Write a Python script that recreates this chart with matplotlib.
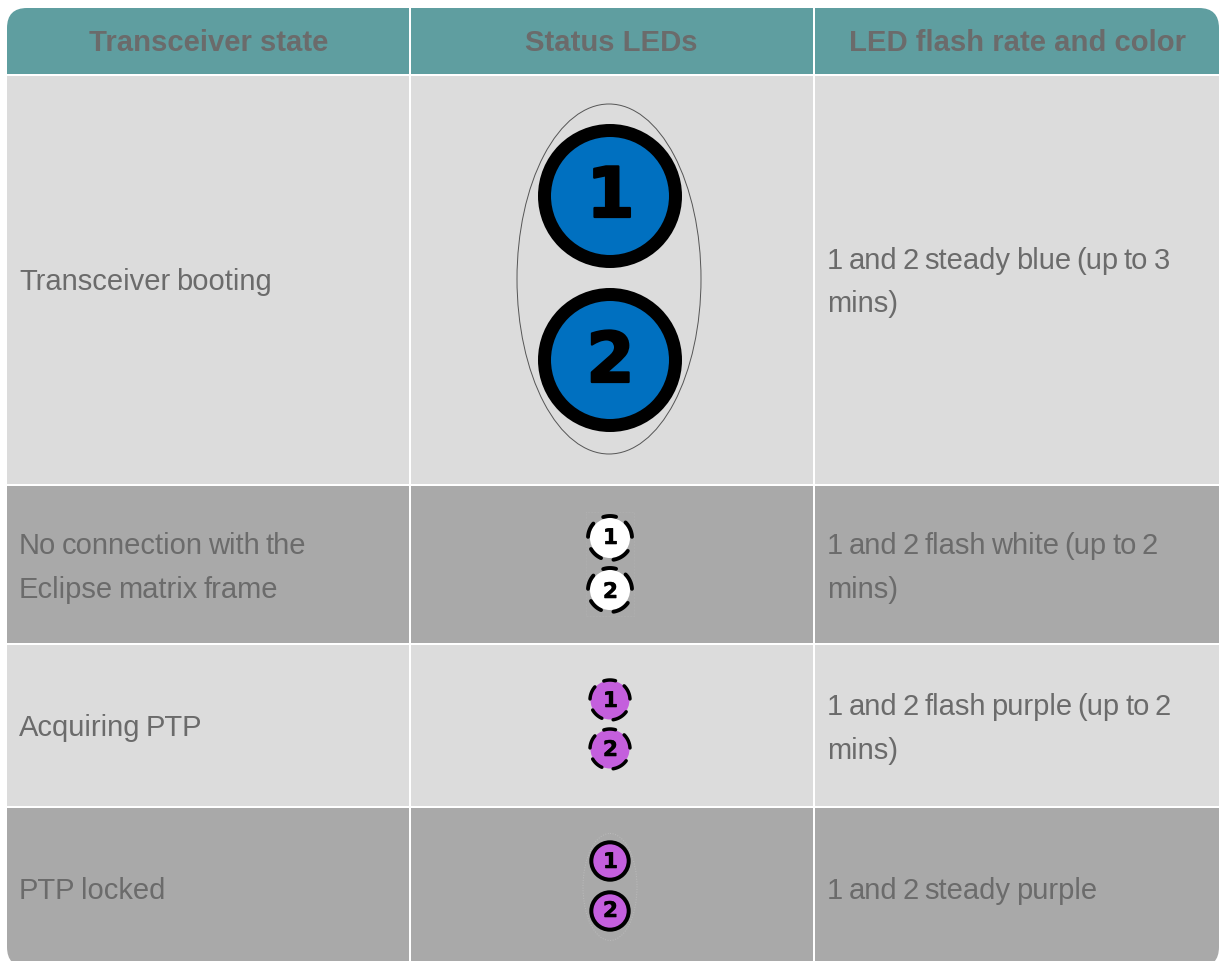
import numpy as np
import matplotlib
matplotlib.use('Agg')
import matplotlib.pyplot as plt
import matplotlib.patheffects as pe
from matplotlib.patches import Rectangle, Circle, Ellipse, FancyBboxPatch

headers = ['Transceiver state', 'Status LEDs', 'LED flash rate and color']
states = [['Transceiver booting'],
          ['No connection with the', 'Eclipse matrix frame'],
          ['Acquiring PTP'],
          ['PTP locked']]
rates = [['1 and 2 steady blue (up to 3', 'mins)'],
         ['1 and 2 flash white (up to 2', 'mins)'],
         ['1 and 2 flash purple (up to 2', 'mins)'],
         ['1 and 2 steady purple']]
led_labels = ['1', '2']
led_colors = ['#0070C0', '#FFFFFF', '#C45FDD', '#C45FDD']

# layout in pixels
W, H = 1220, 961
col_edges = [7, 409.5, 813.5, 1219]
row_edges = [8, 74.5, 485, 644, 807, 967]
state_base = [[290], [554, 598], [736], [899]]
rate_base = [[269, 312], [554, 598], [715, 759], [899]]
led_y = [[196, 360], [538, 590], [700, 749], [861, 911]]
led_r = [65.5, 20, 19.5, 18.7]
led_lw = [13, 0, 0, 4]
dash_r = [0, 22, 20, 0]
dash_lw = [0, 2.8, 2.5, 0]
digit_pt = [50, 15.5, 15.5, 15.5]
digit_stroke = [1.6, 0.4, 0.4, 0.4]
digit_base = [[217, 382], [544, 598], [707, 756], [868, 917]]
# dash arcs round the flashing LEDs, degrees
dash_arcs = [(74, 108), (3, 45), (-36, -81), (-114, -150), (139, 177)]
TEXT = '#6B6B6B'
SPACE = 5.4

fig = plt.figure(figsize=(W / 100, H / 100), dpi=100)
ax = fig.add_axes([0, 0, 1, 1])
ax.set_xlim(0, W)
ax.set_ylim(H, 0)
ax.axis('off')
renderer = fig.canvas.get_renderer()


def draw_line(x, y, line):
    # reference has tight word spacing, so place word by word
    for word in line.split(' '):
        t = ax.text(x, y, word, ha='left', va='baseline', fontsize=21,
                    family='Liberation Sans', color=TEXT)
        x += t.get_window_extent(renderer).width + SPACE


# rounded outline of the whole table, used as clip
clip = FancyBboxPatch((col_edges[0] + 20, row_edges[0] + 20),
                      col_edges[-1] - col_edges[0] - 40,
                      row_edges[-1] - row_edges[0] - 40,
                      boxstyle='round,pad=20,rounding_size=20',
                      fc='none', ec='none')
ax.add_patch(clip)

row_colors = ['#5F9EA0', '#DCDCDC', '#A9A9A9', '#DCDCDC', '#A9A9A9']
for r in range(5):
    for c in range(3):
        x0 = col_edges[c] + (1 if c else 0)
        x1 = col_edges[c + 1] - (1 if c < 2 else 0)
        y0 = row_edges[r] + (1 if r else 0)
        y1 = row_edges[r + 1] - (1 if r < 4 else 0)
        rect = Rectangle((x0, y0), x1 - x0, y1 - y0, fc=row_colors[r], ec='none')
        ax.add_patch(rect)
        rect.set_clip_path(clip)

# header
for c, name in enumerate(headers):
    ax.text((col_edges[c] + col_edges[c + 1]) / 2 + (1 if c == 2 else 0), 51, name,
            ha='center', va='baseline', fontsize=21.1, fontweight='bold',
            family='Liberation Sans', color=TEXT)

# body text
for lines, bases, x in [(states, state_base, 19), (rates, rate_base, 827)]:
    for row_lines, row_bases in zip(lines, bases):
        for line, y in zip(row_lines, row_bases):
            draw_line(x, y, line)

# thin or faint outlines behind LEDs
ax.add_patch(Ellipse((609, 279), 184, 350, fc='none', ec='#555555', lw=0.7))
ax.add_patch(Ellipse((610, 887), 54, 107, fc='none', ec='#C4C4C4', lw=0.7, ls=':', alpha=0.7))
ax.add_patch(Rectangle((586, 512), 48, 104, fc='none', ec='#C4C4C4', lw=0.4, ls=':', alpha=0.5))

# LEDs
for i, ys in enumerate(led_y):
    for j, (y, label) in enumerate(zip(ys, led_labels)):
        ax.add_patch(Circle((610, y), led_r[i], fc=led_colors[i],
                            ec='black' if led_lw[i] else 'none', lw=led_lw[i] * 0.72))
        if led_lw[i] == 0:
            for a, b in dash_arcs:
                t = np.radians(np.linspace(a, b, 30))
                ax.plot(610 + dash_r[i] * np.cos(t), y - dash_r[i] * np.sin(t), color='black',
                        lw=dash_lw[i], solid_capstyle='round')
        txt = ax.text(610.5, digit_base[i][j], label, ha='center', va='baseline',
                      fontsize=digit_pt[i], fontweight='bold', family='DejaVu Sans', color='black')
        txt.set_path_effects([pe.withStroke(linewidth=digit_stroke[i], foreground='black')])

fig.savefig('out.png', dpi=100, facecolor='white')
